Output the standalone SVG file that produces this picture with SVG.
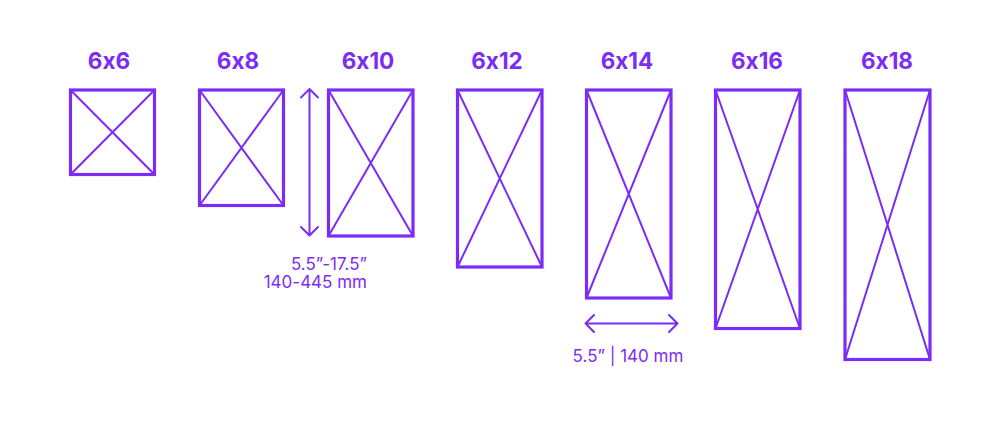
<svg xmlns="http://www.w3.org/2000/svg" width="1000" height="430" viewBox="0 0 1000 430">
<style>
.box{fill:none;stroke:#7b2cf5;stroke-width:3.2}
.x{stroke:#7b2cf5;stroke-width:2}
.t{font-family:Inter,"Liberation Sans",sans-serif;font-weight:700;font-size:22.5px;fill:#7b2cf5;text-anchor:middle;font-feature-settings:"calt" 0;font-variant-ligatures:none}
.d{font-family:Inter,"Liberation Sans",sans-serif;font-size:17px;fill:#7b2cf5;font-feature-settings:"calt" 0}
.a{fill:none;stroke:#7b2cf5;stroke-width:2;stroke-linecap:round;stroke-linejoin:round}
</style>
<rect width="1000" height="430" fill="#fff"/>
<g id="n6x6"><text class="t" x="109" y="69">6x6</text><rect class="box" x="70.5" y="90" width="84" height="84.5"/><path class="x" d="M70.5 90L154.5 174.5M154.5 90L70.5 174.5"/></g>
<g id="n6x8"><text class="t" x="238" y="69">6x8</text><rect class="box" x="199.5" y="90" width="84" height="115.5"/><path class="x" d="M199.5 90L283.5 205.5M283.5 90L199.5 205.5"/></g>
<g id="n6x10"><text class="t" x="368" y="69">6x10</text><rect class="box" x="328.5" y="90" width="84.5" height="146"/><path class="x" d="M328.5 90L413 236M413 90L328.5 236"/></g>
<g id="n6x12"><text class="t" x="497" y="69">6x12</text><rect class="box" x="457.5" y="90" width="84.5" height="177"/><path class="x" d="M457.5 90L542 267M542 90L457.5 267"/></g>
<g id="n6x14"><text class="t" x="627" y="69">6x14</text><rect class="box" x="586.5" y="90" width="84.5" height="208"/><path class="x" d="M586.5 90L671 298M671 90L586.5 298"/></g>
<g id="n6x16"><text class="t" x="757" y="69">6x16</text><rect class="box" x="715.5" y="90" width="84.5" height="238.5"/><path class="x" d="M715.5 90L800 328.5M800 90L715.5 328.5"/></g>
<g id="n6x18"><text class="t" x="887" y="69">6x18</text><rect class="box" x="845" y="90" width="85" height="269.5"/><path class="x" d="M845 90L930 359.5M930 90L845 359.5"/></g>
<g id="connectors">
<path class="a" d="M309.5 89V235.5M301 97.5L309.5 89L318 97.5M301 227L309.5 235.5L318 227"/>
<path class="a" d="M585.5 323.5H677.5M594 315L585.5 323.5L594 332M669 315L677.5 323.5L669 332"/>
</g>
<g id="labels">
<text class="d" x="367" y="269.5" text-anchor="end">5.5”-17.5”</text>
<text class="d" x="367" y="287.5" text-anchor="end">140-445 mm</text>
<text class="d" x="628" y="362" text-anchor="middle">5.5” | 140 mm</text>
</g>
</svg>
